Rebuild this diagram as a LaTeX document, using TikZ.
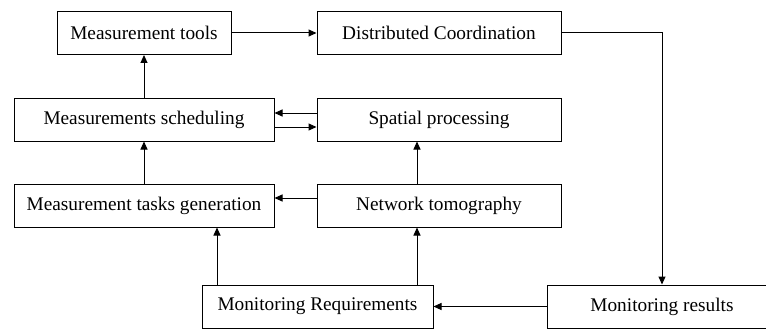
\documentclass[tikz,border=0pt]{standalone}
\usepackage{fontspec}
\setmainfont{Liberation Serif}
\usetikzlibrary{arrows.meta}
\begin{document}
\begin{tikzpicture}[x=1pt,y=-1pt,
  box/.style={draw,line width=1pt,rectangle,inner sep=0pt,minimum height=43pt,font=\fontsize{19.3}{21}\selectfont},
  flow/.style={line width=1pt,-{Triangle[length=8pt,width=7pt]}}]
\useasboundingbox (0,0) rectangle (766,329);
\clip (0,0) rectangle (766,329);
% upper row
\node[box,minimum width=174pt] (tools) at (144,33) {Measurement tools};
\node[box,minimum width=244pt] (dc) at (439,33) {Distributed Coordination};
% middle row
\node[box,minimum width=260pt] (sched) at (144,119.5) {Measurements scheduling};
\node[box,minimum width=244pt] (spat) at (439,119.5) {Spatial processing};
% lower row
\node[box,minimum width=260pt] (tasks) at (144,205.5) {Measurement tasks generation};
\node[box,minimum width=244pt] (tomo) at (439,205.5) {Network tomography};
% bottom row
\node[box,minimum width=231pt] (req) at (317.5,306.5) {Monitoring Requirements};
\node[box,minimum width=230pt] (res) at (662,306.5) {Monitoring results};
% connectors
\draw[flow] (tools.east) -- (dc.west);
\draw[flow] (sched.north) -- (tools.south);
\draw[flow] (spat.west |- 0,113) -- (sched.east |- 0,113);
\draw[flow] (sched.east |- 0,127) -- (spat.west |- 0,127);
\draw[flow] (tasks.north) -- (sched.south);
\draw[flow] (tomo.north -| 417,0) -- (spat.south -| 417,0);
\draw[flow] (tomo.west |- 0,198) -- (tasks.east |- 0,198);
\draw[flow] (req.north -| 217,0) -- (tasks.south -| 217,0);
\draw[flow] (req.north -| 417,0) -- (tomo.south -| 417,0);
\draw[flow] (res.west) -- (req.east);
\draw[flow] (dc.east) -| (res.north);
\end{tikzpicture}
\end{document}
